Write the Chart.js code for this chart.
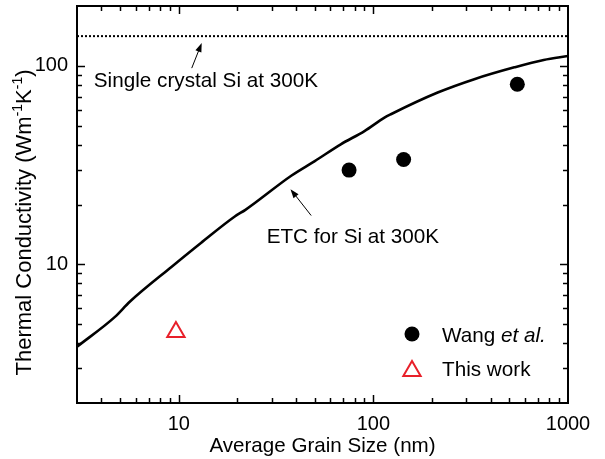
<!DOCTYPE html>
<html>
<head>
<meta charset="utf-8">
<script src="https://cdn.jsdelivr.net/npm/chart.js@4/dist/chart.umd.min.js"></script>
<style>
  html, body { margin: 0; padding: 0; background: #fff; }
  #wrap { width: 605px; height: 459px; }
</style>
</head>
<body>
<div id="wrap"><canvas id="c" width="605" height="459"></canvas></div>
<script>
// ---- data ----
const etcX = [3, 4.7, 5.6, 9.2, 13, 19.4, 22, 38, 50, 68, 90, 114, 123, 214, 330, 530, 750, 1000];
const etcY = [3.84, 5.43, 6.47, 9.72, 12.8, 17.4, 18.8, 28, 33.1, 40.2, 46.9, 54.8, 57, 73.3, 85.6, 98.2, 107, 112];
const wangX = [75, 143, 549];
const wangY = [29.8, 33.7, 80.7];
const thisWorkX = [9.67];
const thisWorkY = [4.56];
const singleCrystalY = 141;
const xRange = [3, 1000];
const yRange = [2, 200];
const xTickLabels = [10, 100, 1000];
const yTickLabels = [10, 100];

const FONT = "'Liberation Sans', Arial, Helvetica, sans-serif";
const RED = '#e8202a';

const toPts = (xs, ys) => xs.map((x, i) => ({ x, y: ys[i] }));

// inward ticks on all 4 sides + frame
const frameTicks = {
  id: 'frameTicks',
  afterDraw(chart) {
    const { ctx, chartArea: a, scales: { x, y } } = chart;
    ctx.save();
    ctx.strokeStyle = '#000';
    ctx.lineWidth = 1.5;
    const line = (x1, y1, x2, y2) => { ctx.beginPath(); ctx.moveTo(x1, y1); ctx.lineTo(x2, y2); ctx.stroke(); };
    for (let e = 0; e <= 3; e++) {
      for (let m = 1; m <= 9; m++) {
        const v = m * Math.pow(10, e);
        const L = m === 1 ? 8 : 5;
        if (v > xRange[0] && v < xRange[1]) {
          const px = Math.round(x.getPixelForValue(v)) + 0.5;
          line(px, a.bottom, px, a.bottom - L);
          line(px, a.top, px, a.top + L);
        }
        if (v > yRange[0] && v < yRange[1]) {
          const py = Math.round(y.getPixelForValue(v)) + 0.5;
          line(a.left, py, a.left + L, py);
          line(a.right, py, a.right - L, py);
        }
      }
    }
    ctx.lineWidth = 2;
    ctx.strokeRect(a.left, a.top, a.right - a.left, a.bottom - a.top);

    // y axis title with superscripts
    const parts = [['Thermal Conductivity (Wm', 0], ['-1', 1], ['K', 0], ['-1', 1], [')', 0]];
    const mainF = '22px ' + FONT, supF = '14px ' + FONT;
    let total = 0;
    for (const [t, s] of parts) { ctx.font = s ? supF : mainF; total += ctx.measureText(t).width; }
    ctx.translate(a.left - 46, (a.top + a.bottom) / 2 + 18);
    ctx.rotate(-Math.PI / 2);
    ctx.fillStyle = '#000';
    ctx.textBaseline = 'alphabetic';
    ctx.textAlign = 'left';
    let cx = -total / 2;
    for (const [t, s] of parts) {
      ctx.font = s ? supF : mainF;
      ctx.fillText(t, cx, s ? -9 : 0);
      cx += ctx.measureText(t).width;
    }
    ctx.restore();
  }
};

// annotations (placed in data space) + legend
const annotations = {
  id: 'annotations',
  afterDraw(chart) {
    const { ctx, chartArea: a, scales: { x, y } } = chart;
    ctx.save();
    ctx.fillStyle = '#000';
    ctx.strokeStyle = '#000';
    ctx.font = '20.7px ' + FONT;
    ctx.textBaseline = 'alphabetic';
    ctx.textAlign = 'left';
    ctx.fillText('Single crystal Si at 300K', x.getPixelForValue(3.66), y.getPixelForValue(78));
    ctx.fillText('ETC for Si at 300K', x.getPixelForValue(28.3), y.getPixelForValue(12.8));

    const arrow = (x1, y1, x2, y2) => {
      const p1 = [x.getPixelForValue(x1), y.getPixelForValue(y1)];
      const p2 = [x.getPixelForValue(x2), y.getPixelForValue(y2)];
      const ang = Math.atan2(p2[1] - p1[1], p2[0] - p1[0]);
      const L = 9, W = 3.2;
      ctx.lineWidth = 1;
      ctx.beginPath();
      ctx.moveTo(p1[0], p1[1]);
      ctx.lineTo(p2[0] - Math.cos(ang) * L * 0.8, p2[1] - Math.sin(ang) * L * 0.8);
      ctx.stroke();
      ctx.beginPath();
      ctx.moveTo(p2[0], p2[1]);
      ctx.lineTo(p2[0] - Math.cos(ang) * L + Math.sin(ang) * W, p2[1] - Math.sin(ang) * L - Math.cos(ang) * W);
      ctx.lineTo(p2[0] - Math.cos(ang) * L - Math.sin(ang) * W, p2[1] - Math.sin(ang) * L + Math.cos(ang) * W);
      ctx.closePath();
      ctx.fill();
    };
    arrow(11.66, 97.3, 13.12, 130.3);
    arrow(47.9, 17.6, 37.5, 23.9);

    // legend
    const lx = a.left + 335, tx = a.left + 365;
    ctx.beginPath();
    ctx.arc(lx, a.top + 328, 7.5, 0, Math.PI * 2);
    ctx.fill();
    ctx.font = '20.7px ' + FONT;
    ctx.fillText('Wang ', tx, a.top + 335.5);
    const w = ctx.measureText('Wang ').width;
    ctx.font = 'italic 20.7px ' + FONT;
    ctx.fillText('et al.', tx + w, a.top + 335.5);

    const r = 10, cy = a.top + 365;
    ctx.strokeStyle = RED;
    ctx.lineWidth = 2;
    ctx.beginPath();
    for (let k = 0; k < 3; k++) {
      const ang = k * 2 * Math.PI / 3;
      const px = lx + Math.sin(ang) * r, py = cy - Math.cos(ang) * r;
      if (k === 0) ctx.moveTo(px, py); else ctx.lineTo(px, py);
    }
    ctx.closePath();
    ctx.stroke();
    ctx.fillStyle = '#000';
    ctx.font = '20.7px ' + FONT;
    ctx.fillText('This work', tx, a.top + 370);
    ctx.restore();
  }
};

new Chart(document.getElementById('c'), {
  type: 'line',
  data: {
    datasets: [
      {
        label: 'ETC for Si at 300K',
        data: toPts(etcX, etcY),
        borderColor: '#000',
        borderWidth: 2.6,
        pointRadius: 0,
        cubicInterpolationMode: 'monotone',
        fill: false
      },
      {
        label: 'Single crystal Si at 300K',
        data: toPts(xRange, [singleCrystalY, singleCrystalY]),
        borderColor: '#000',
        borderWidth: 2,
        borderDash: [2, 2],
        pointRadius: 0,
        fill: false
      },
      {
        label: 'Wang et al.',
        data: toPts(wangX, wangY),
        showLine: false,
        pointStyle: 'circle',
        pointRadius: 7.5,
        pointBackgroundColor: '#000',
        pointBorderWidth: 0
      },
      {
        label: 'This work',
        data: toPts(thisWorkX, thisWorkY),
        showLine: false,
        pointStyle: 'triangle',
        pointRadius: 10,
        pointBackgroundColor: 'rgba(0,0,0,0)',
        pointBorderColor: RED,
        pointBorderWidth: 2
      }
    ]
  },
  options: {
    responsive: false,
    animation: false,
    devicePixelRatio: 1,
    layout: { autoPadding: false, padding: { top: 6, right: 37, left: 0, bottom: 0 } },
    plugins: { legend: { display: false }, tooltip: { enabled: false } },
    scales: {
      x: {
        type: 'logarithmic',
        min: xRange[0], max: xRange[1],
        grid: { display: false, drawTicks: false },
        border: { display: false },
        afterBuildTicks: s => { s.ticks = xTickLabels.map(v => ({ value: v })); },
        afterFit: s => { s.height = 56; s.paddingLeft = 0; s.paddingRight = 0; },
        ticks: {
          autoSkip: false, maxRotation: 0, padding: 9,
          color: '#000', font: { family: FONT, size: 20 },
          callback: v => String(v)
        },
        title: {
          display: true, text: 'Average Grain Size (nm)', color: '#000',
          font: { family: FONT, size: 20.6 }, padding: { top: 0, bottom: 0 }
        }
      },
      y: {
        type: 'logarithmic',
        min: yRange[0], max: yRange[1],
        grid: { display: false, drawTicks: false },
        border: { display: false },
        afterBuildTicks: s => { s.ticks = yTickLabels.map(v => ({ value: v })); },
        afterFit: s => { s.width = 77; s.paddingTop = 0; s.paddingBottom = 0; },
        ticks: {
          autoSkip: false, padding: 9,
          color: '#000', font: { family: FONT, size: 20 },
          callback: v => String(v)
        }
      }
    }
  },
  plugins: [frameTicks, annotations]
});
</script>
</body>
</html>
